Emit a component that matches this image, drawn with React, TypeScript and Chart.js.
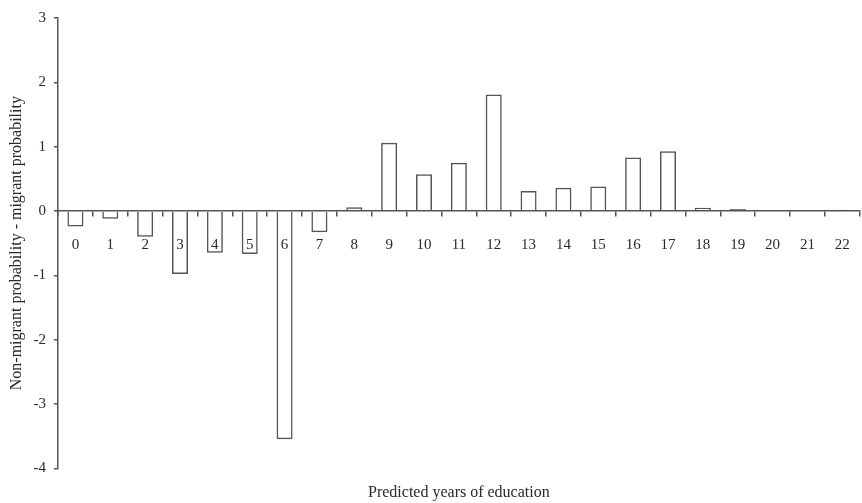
import React, { useEffect, useRef } from "react";
import { Chart, registerables } from "chart.js";

Chart.register(...registerables);

const categories = ["0", "1", "2", "3", "4", "5", "6", "7", "8", "9", "10", "11", "12", "13", "14", "15", "16", "17", "18", "19", "20", "21", "22"];
const differences = [-0.24, -0.12, -0.4, -0.98, -0.65, -0.67, -3.55, -0.33, 0.06, 1.06, 0.57, 0.75, 1.81, 0.31, 0.36, 0.38, 0.83, 0.93, 0.05, 0.03, 0.01, 0.01, 0.02];
const yMin = -4;
const yMax = 3;
const xTitle = "Predicted years of education";
const yTitle = "Non-migrant probability - migrant probability";

const FONT = "'Liberation Serif', 'DejaVu Serif', serif";
const INK = "#555555";
const TEXT = "#2a2a2a";

export default function App() {
  const ref = useRef<HTMLCanvasElement | null>(null);
  useEffect(() => {
    if (!ref.current) return;
    const chart = new Chart(ref.current, {
      type: "bar",
      data: {
        labels: categories,
        datasets: [
          {
            data: differences,
            backgroundColor: "rgba(255,255,255,0)",
            borderColor: INK,
            borderWidth: 1.5,
            categoryPercentage: 1,
            barPercentage: 0.46,
          },
        ],
      },
      options: {
        responsive: false,
        animation: false,
        layout: { padding: { top: 18, right: 5.5, left: 0, bottom: 0 } },
        plugins: {
          legend: { display: false },
          tooltip: { enabled: false },
          title: {
            display: true,
            text: xTitle,
            position: "bottom",
            fullSize: false,
            color: TEXT,
            font: { family: FONT, size: 16, weight: "normal" },
            padding: { top: 15, bottom: 0.5 },
          },
        },
        scales: {
          x: {
            type: "category",
            position: { y: 0 } as any,
            offset: true,
            grid: {
              display: true,
              offset: true,
              drawOnChartArea: false,
              drawTicks: true,
              tickLength: 5,
              color: INK,
              lineWidth: 1.5,
            },
            border: { display: true, color: INK, width: 1.5 },
            ticks: {
              color: TEXT,
              font: { family: FONT, size: 15 },
              padding: 20,
              maxRotation: 0,
              autoSkip: false,
            },
          },
          y: {
            type: "linear",
            min: yMin,
            max: yMax,
            afterFit: (s: any) => {
              s.width = 58;
            },
            grid: {
              display: true,
              drawOnChartArea: false,
              drawTicks: true,
              tickLength: 4,
              color: INK,
              lineWidth: 1.5,
            },
            border: { display: true, color: INK, width: 1.5 },
            ticks: {
              stepSize: 1,
              color: TEXT,
              font: { family: FONT, size: 15 },
              padding: 8,
            },
            title: {
              display: true,
              text: yTitle,
              color: TEXT,
              font: { family: FONT, size: 16 },
              padding: { top: 7, bottom: 0 },
            },
          },
        },
      },
    });
    return () => chart.destroy();
  }, []);
  return (
    <div style={{ position: "fixed", left: 0, top: 0, width: 862, height: 503, overflow: "hidden", background: "#fff" }}>
      <canvas ref={ref} width={870} height={503} style={{ display: "block" }} />
    </div>
  );
}
